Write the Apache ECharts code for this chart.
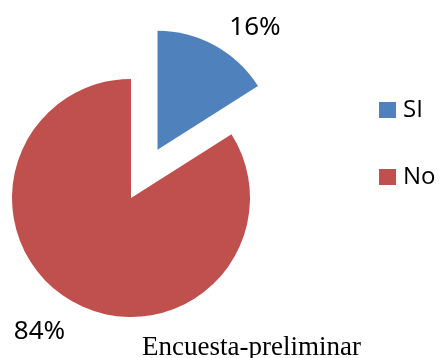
<!DOCTYPE html>
<html><head><meta charset="utf-8">
<script src="https://cdn.jsdelivr.net/npm/echarts@6/dist/echarts.min.js"></script>
<style>html,body{margin:0;padding:0;background:#fff}#c{width:440px;height:358px}</style>
</head><body><div id="c"></div>
<script>
const categories = ['SI', 'No'];
const values = [16, 84];
const colors = ['#4F81BD', '#C0504D'];
const titleText = 'Encuesta-preliminar';

const labelShift = [[-4, 7], [10, 5]];

const chart = echarts.init(document.getElementById('c'), null, {renderer: 'canvas'});
chart.setOption({
  animation: false,
  title: {
    text: titleText, left: 142, top: 334, padding: 0,
    textStyle: {fontFamily: 'Liberation Serif', fontSize: 27, fontWeight: 'normal', color: '#000'}
  },
  legend: {
    orient: 'vertical', left: 379, top: 98, padding: 0,
    icon: 'rect', itemWidth: 17, itemHeight: 16, itemGap: 43,
    textStyle: {fontFamily: 'Open Sans', fontSize: 24, color: '#000', padding: [0, 0, 0, 2]},
    selectedMode: false,
    data: categories
  },
  series: [{
    type: 'pie',
    center: [131, 198],
    radius: 119,
    startAngle: 90,
    clockwise: true,
    selectedMode: 'single',
    selectedOffset: 55,
    emphasis: {disabled: true},
    label: {
      show: true, position: 'outside', formatter: '{d}%', overflow: 'none',
      fontFamily: 'Noto Sans', fontSize: 26, color: '#000'
    },
    labelLine: {show: false, length: 28, length2: 0},
    labelLayout: function (p) {
      const s = labelShift[p.dataIndex];
      return {dx: s[0], dy: s[1]};
    },
    itemStyle: {borderWidth: 0},
    data: categories.map((c, i) => ({
      name: c, value: values[i], selected: i === 0,
      itemStyle: {color: colors[i]}
    }))
  }]
});
</script></body></html>
